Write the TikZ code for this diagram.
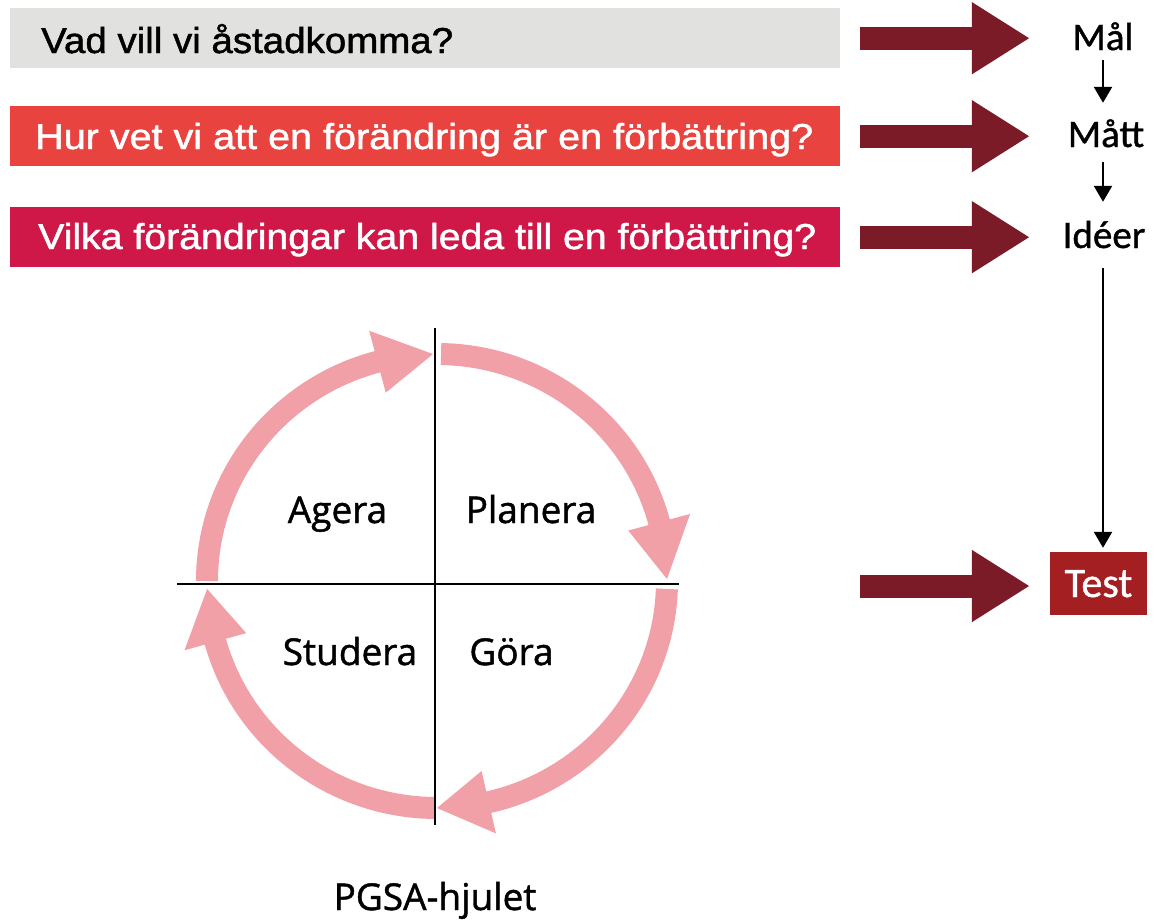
\documentclass[tikz,border=0pt]{standalone}
\usepackage{fontspec}
\usepackage{graphicx}
\setmainfont{Liberation Sans}
\newfontfamily\banfont[FakeBold=1.3]{Liberation Sans}
\newfontfamily\calfont[FakeBold=1.0]{Carlito}
\newfontfamily\opfont[FakeBold=1.2]{Open Sans}
\usetikzlibrary{calc,arrows.meta}
\definecolor{bgray}{HTML}{E1E1DF}
\definecolor{bred}{HTML}{E9433F}
\definecolor{bcrim}{HTML}{CF1748}
\definecolor{maroonc}{HTML}{7B1B28}
\definecolor{testred}{HTML}{A31F22}
\definecolor{pinkc}{HTML}{F2A0A8}
\newcommand\cycarr[4]{%
  \draw[ring] ($(C)+(#1:230 and 227)$) arc[start angle=#1, end angle=#2, x radius=230, y radius=227];
  \fill[pinkc] ($(C)+(#3:262 and 259)$) -- ($(C)+(#3:198 and 195)$) -- ($(C)+(#4:230 and 227)$) -- cycle;}
\tikzset{
  banner/.style={rectangle, inner sep=0pt, minimum width=830pt, minimum height=60pt, anchor=north west},
  btext/.style={anchor=base west, inner sep=0pt, font=\banfont\fontsize{36}{40}\selectfont},
  rlabel/.style={anchor=base, inner sep=0pt, text height=28pt, text depth=0pt, font=\calfont\fontsize{39}{42}\selectfont},
  bigarrow/.style={draw=maroonc, line width=23pt, -{Triangle[length=58pt,width=68pt,fill=maroonc]}},
  smallarrow/.style={draw=black, line width=2.4pt, -{Triangle[length=16pt,width=18pt]}},
  ring/.style={draw=pinkc, line width=22pt},
  clabel/.style={anchor=base, inner sep=0pt, font=\opfont\fontsize{37}{40}\selectfont},
  axisline/.style={draw=black, line width=2.2pt},
}
\begin{document}
\begin{tikzpicture}[x=1pt,y=-1pt]
\useasboundingbox (0,0) rectangle (1156,921);
\fill[white] (0,0) rectangle (1156,921);

% banners
\node[banner, fill=bgray] (q1) at (10,8) {};
\node[banner, fill=bred] (q2) at (10,106) {};
\node[banner, fill=bcrim] (q3) at (10,207) {};
\node[btext, text=black] (t1) at (41,53) {\resizebox{412pt}{\height}{Vad vill vi åstadkomma?}};
\node[btext, text=white] (t2) at (35,149) {\resizebox{778pt}{\height}{Hur vet vi att en förändring är en förbättring?}};
\node[btext, text=white] (t3) at (38,249) {\resizebox{778pt}{\height}{Vilka förändringar kan leda till en förbättring?}};

% right column
\node[rlabel] (mal) at (1103,50) {Mål};
\node[rlabel] (matt) at (1106,147) {Mått};
\node[rlabel] (ideer) at (1104,248) {Idéer};
\node[rectangle, fill=testred, minimum width=97pt, minimum height=63pt, inner sep=0pt,
      text=white, text height=27pt, text depth=0pt, font=\calfont\fontsize{42}{44}\selectfont] (test) at (1098.5,583.5) {Test};
\coordinate (s4) at (860,586);

\draw[bigarrow] ([xshift=20pt]q1.east) -- ([xshift=-20pt]q1.east -| test.west);
\draw[bigarrow] ([xshift=20pt]q2.east) -- ([xshift=-20pt]q2.east -| test.west);
\draw[bigarrow] ([xshift=20pt]q3.east) -- ([xshift=-20pt]q3.east -| test.west);
\draw[bigarrow] (s4) -- ([xshift=-20pt]s4 -| test.west);

\draw[smallarrow, shorten <=10pt, shorten >=16pt] (mal.south) -- (mal.south |- matt.north);
\draw[smallarrow, shorten <=15pt, shorten >=18pt] (matt.south -| mal.south) -- (mal.south |- ideer.north);
\draw[smallarrow, shorten <=20pt, shorten >=4pt] (ideer.south -| mal.south) -- (mal.south |- test.north);

% PGSA wheel
\coordinate (C) at (437,581);
\cycarr{180}{256}{255}{269}
\cycarr{271}{346}{345}{359.5}
\cycarr{2}{78}{77}{90}
\cycarr{90.5}{165.5}{164.5}{178}

\coordinate (vt) at (435,328);
\coordinate (vb) at (435,825);
\coordinate (hl) at (177,584);
\coordinate (hr) at (679,584);
\draw[axisline] (vt) -- (vb);
\draw[axisline] (hl) -- (hr);

\node[clabel] (agera) at (337.5,523) {Agera};
\node[clabel] (planera) at (531,523) {Planera};
\node[clabel] (studera) at (350,665) {Studera};
\node[clabel] (gora) at (511.5,665) {Göra};
\node[clabel] (pgsa) at (435,910) {PGSA-hjulet};
\end{tikzpicture}
\end{document}
